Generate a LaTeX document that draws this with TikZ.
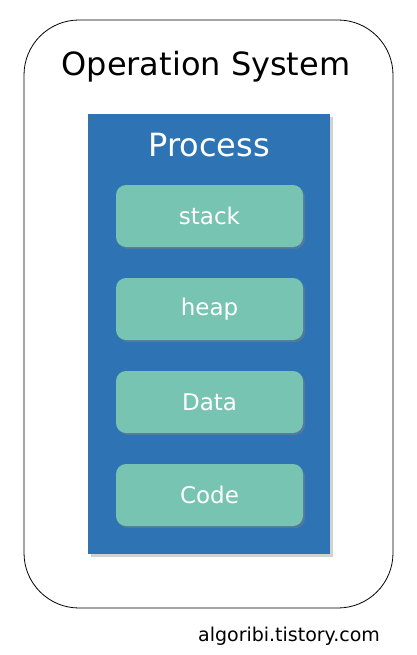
\documentclass[tikz,border=0pt]{standalone}
\usepackage{fontspec}
\setmainfont{DejaVu Sans}
\usetikzlibrary{positioning,shadows}
\definecolor{procblue}{HTML}{2E74B5}
\definecolor{segteal}{HTML}{78C4B2}

\begin{document}
\begin{tikzpicture}[x=1pt,y=-1pt,node distance=93pt,
    os box/.style={draw,line width=0.8pt,rounded corners=55pt,minimum width=369pt,minimum height=588pt,inner sep=0pt},
    proc box/.style={fill=procblue,minimum width=242pt,minimum height=440pt,inner sep=0pt,
      drop shadow={shadow xshift=3pt,shadow yshift=-3pt,opacity=0.35}},
    seg node/.style={rectangle,rounded corners=10pt,fill=segteal,minimum width=187pt,minimum height=62pt,
      inner sep=0pt,text=white,font=\fontsize{23}{26}\selectfont,
      drop shadow={shadow xshift=2pt,shadow yshift=-2pt,opacity=0.45}}]

  \useasboundingbox[fill=white] (0,0) rectangle (416,655);

  \node[os box] (os) at (208.5,314) {};
  \node[font=\fontsize{32}{36}\selectfont] (ostitle) at (206,67) {Operation System};

  \node[proc box] (proc) at (209,334) {};
  \node[text=white,font=\fontsize{32}{36}\selectfont] (proctitle) at (209,145) {Process};

  \node[seg node] (stack) at (209.5,216) {stack};
  \node[seg node] (heap) [below of=stack] {heap};
  \node[seg node] (data) [below of=heap] {Data};
  \node[seg node] (code) [below of=data] {Code};

  \node[font=\fontsize{19}{22}\selectfont] (site) at (289,636) {algoribi.tistory.com};
\end{tikzpicture}
\end{document}
